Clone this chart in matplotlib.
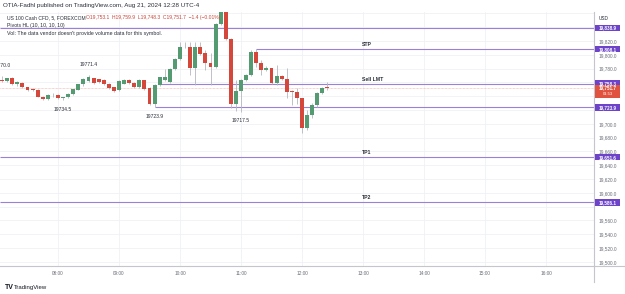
import matplotlib
matplotlib.use("Agg")
import matplotlib.pyplot as plt
from matplotlib.patches import Rectangle
from matplotlib.transforms import blended_transform_factory

# ---------------- data ----------------
times = ["07:05", "07:10", "07:15", "07:20", "07:25", "07:30", "07:35", "07:40", "07:45", "07:50",
         "07:55", "08:00", "08:05", "08:10", "08:15", "08:20", "08:25", "08:30", "08:35", "08:40",
         "08:45", "08:50", "08:55", "09:00", "09:05", "09:10", "09:15", "09:20", "09:25", "09:30",
         "09:35", "09:40", "09:45", "09:50", "09:55", "10:00", "10:05", "10:10", "10:15", "10:20",
         "10:25", "10:30", "10:35", "10:40", "10:45", "10:50", "10:55", "11:00", "11:05", "11:10",
         "11:15", "11:20", "11:25", "11:30", "11:35", "11:40", "11:45", "11:50", "11:55", "12:00",
         "12:05", "12:10", "12:15", "12:20", "12:25"]
opens = [19764.0, 19762.5, 19766.0, 19757.7, 19759.0, 19753.0, 19750.0, 19749.5, 19739.3, 19735.5,
         19741.5, 19742.0, 19737.5, 19738.4, 19742.8, 19749.5, 19757.0, 19762.0, 19766.0, 19764.5,
         19763.5, 19758.0, 19753.0, 19748.5, 19758.0, 19763.5, 19759.6, 19753.0, 19763.5, 19751.5,
         19728.7, 19756.0, 19764.0, 19760.0, 19779.0, 19793.5, 19812.0, 19811.7, 19780.4, 19811.7,
         19802.0, 19788.0, 19783.0, 19844.6, 19866.0, 19823.0, 19728.3, 19748.0, 19763.5, 19770.7,
         19804.5, 19787.7, 19778.0, 19780.4, 19758.7, 19769.3, 19764.5, 19748.0, 19746.5, 19737.0,
         19694.4, 19712.8, 19727.3, 19744.2, 19753.1]
highs = [19770.0, 19767.0, 19767.5, 19762.0, 19760.0, 19754.0, 19752.3, 19750.5, 19740.0, 19742.5,
         19744.2, 19743.0, 19739.3, 19744.5, 19751.0, 19758.0, 19766.0, 19771.4, 19767.0, 19765.5,
         19764.5, 19759.0, 19754.0, 19763.5, 19765.0, 19764.5, 19760.5, 19764.5, 19764.0, 19754.0,
         19757.0, 19768.5, 19780.0, 19780.5, 19795.0, 19818.0, 19819.0, 19819.0, 19818.0, 19818.0,
         19807.0, 19802.0, 19846.0, 19870.0, 19870.0, 19825.0, 19763.5, 19765.0, 19772.0, 19807.0,
         19808.1, 19792.5, 19783.8, 19781.0, 19785.2, 19771.0, 19781.3, 19749.0, 19751.5, 19738.0,
         19720.0, 19730.0, 19746.0, 19754.0, 19759.9]
lows = [19760.5, 19761.0, 19756.0, 19755.5, 19752.0, 19747.5, 19747.5, 19738.5, 19734.8, 19735.0,
        19738.9, 19736.5, 19734.5, 19737.0, 19742.0, 19748.5, 19755.5, 19761.0, 19757.5, 19759.0,
        19756.5, 19751.0, 19746.0, 19747.0, 19757.0, 19758.0, 19752.5, 19752.0, 19749.5, 19727.0,
        19723.9, 19755.0, 19762.0, 19758.5, 19777.5, 19792.0, 19809.5, 19770.7, 19756.2, 19800.0,
        19778.0, 19756.0, 19781.0, 19843.0, 19821.0, 19722.5, 19719.0, 19717.5, 19762.0, 19769.0,
        19782.8, 19770.7, 19776.0, 19757.0, 19756.0, 19763.0, 19737.0, 19727.0, 19729.0, 19686.3,
        19691.0, 19709.0, 19724.0, 19743.0, 19748.3]
closes = [19762.0, 19766.0, 19757.5, 19760.0, 19752.8, 19748.5, 19749.3, 19739.3, 19735.5, 19741.8,
          19742.0, 19737.4, 19738.0, 19743.6, 19750.0, 19757.2, 19765.0, 19767.5, 19758.5, 19760.0,
          19757.5, 19752.5, 19747.0, 19762.0, 19763.5, 19759.0, 19753.8, 19763.5, 19750.5, 19728.7,
          19755.8, 19767.4, 19768.0, 19779.0, 19793.5, 19811.7, 19811.3, 19780.4, 19811.7, 19801.2,
          19787.7, 19783.0, 19844.6, 19866.0, 19823.0, 19728.3, 19748.0, 19763.5, 19770.7, 19804.5,
          19787.7, 19778.0, 19780.4, 19758.7, 19769.3, 19764.5, 19746.5, 19746.1, 19737.0, 19694.4,
          19712.8, 19727.3, 19744.2, 19752.3, 19751.7]

pivot_high_times = ["07:05", "08:30"]
pivot_high_values = [19770.0, 19771.4]
pivot_low_times = ["08:05", "09:35", "11:00"]
pivot_low_values = [19734.5, 19723.9, 19717.5]

level_values = [19838.9, 19808.1, 19758.3, 19723.9, 19651.6, 19586.1]
level_starts = [None, "11:15", "09:40", "09:35", None, None]
level_names = ["", "STP", "Sell LMT", "", "TP1", "TP2"]

last_price = 19751.7
countdown = "01:53"

hour_labels = ["08:00", "09:00", "10:00", "11:00", "12:00", "13:00", "14:00", "15:00", "16:00"]
price_ticks = list(range(19500, 19861, 20))
hidden_price_labels = [19860, 19840, 19760, 19740, 19720, 19580]   # covered by axis boxes

# ---------------- helpers ----------------
def tmin(s):
    h, m = s.split(":")
    return (int(h) - 8) * 60 + int(m)

W, H = 625, 294
GREEN = "#559b71"
RED = "#d4473a"
WICK = "#b4b7be"
PURPLE_LINE = "#9a80d6"
PURPLE_BOX = "#6c43c9"
GRID = "#f0f1f5"
plt.rcParams["font.family"] = ["Liberation Sans", "DejaVu Sans"]

fig = plt.figure(figsize=(W / 100, H / 100), dpi=100)
fig.patch.set_facecolor("white")

pane_left, pane_right, pane_top, pane_bottom = 0, 594, 12, 266
ax = fig.add_axes([pane_left / W, 1 - pane_bottom / H,
                   (pane_right - pane_left) / W, (pane_bottom - pane_top) / H])
xmin, xmax = -57.05, 527.2
ymin, ymax = 19494.0, 19862.0
ax.set_xlim(xmin, xmax)
ax.set_ylim(ymin, ymax)

# grid / ticks
ax.set_xticks([tmin(h) for h in hour_labels])
ax.set_xticklabels(hour_labels)
ax.set_yticks(price_ticks)
ax.set_yticklabels(["" if p in hidden_price_labels else f"{p:,.1f}" for p in price_ticks])
ax.yaxis.tick_right()
ax.grid(True, color=GRID, lw=0.6, zorder=0)
ax.set_axisbelow(True)
ax.tick_params(axis="both", length=0, labelsize=3.4, labelcolor="#6a6d78")
ax.tick_params(axis="x", pad=3.4)
ax.tick_params(axis="y", pad=3.0)
for s in ["top", "left"]:
    ax.spines[s].set_visible(False)
for s in ["right", "bottom"]:
    ax.spines[s].set_color("#c4c6cc")
    ax.spines[s].set_linewidth(0.8)

# current price dotted line
ax.axhline(last_price, color="#f0a9a1", lw=0.5, ls=(0, (1, 1)), zorder=1)

# level lines
for v, st in zip(level_values, level_starts):
    x0 = xmin if st is None else tmin(st)
    ax.hlines(v, x0, xmax, color=PURPLE_LINE, lw=0.8, zorder=2)

# candles
bw = 3.9
for t, o, h, l, c in zip(times, opens, highs, lows, closes):
    x = tmin(t)
    col = GREEN if c >= o else RED
    ax.vlines(x, l, h, color=WICK, lw=0.6, zorder=3)
    lo, hi = min(o, c), max(o, c)
    ax.bar(x, max(hi - lo, 0.7), bottom=lo, width=bw, color=col, zorder=4, linewidth=0)

# pivot labels
for t, v in zip(pivot_high_times, pivot_high_values):
    ax.annotate(f"{v:.1f}", xy=(tmin(t), v), xytext=(0, 7.0), textcoords="offset points",
                ha="center", va="center", fontsize=3.6, color="#2a2e39", zorder=6,
                annotation_clip=False)
for t, v in zip(pivot_low_times, pivot_low_values):
    ax.annotate(f"{v:.1f}", xy=(tmin(t), v), xytext=(0, -6.6), textcoords="offset points",
                ha="center", va="center", fontsize=3.6, color="#2a2e39", zorder=6)

# level names
for v, name in zip(level_values, level_names):
    if name:
        ax.annotate(name, xy=(tmin("12:59"), v), xytext=(0, 3.2), textcoords="offset points",
                    ha="left", va="center", fontsize=3.7, fontweight="bold", color="#2a2e39",
                    zorder=6)

# price-axis boxes
tr = blended_transform_factory(ax.transAxes, ax.transData)
ppx = (ymax - ymin) / (pane_bottom - pane_top)   # price per pixel
bx0 = 1.0 + 1.0 / (pane_right - pane_left)
bwid = 25.0 / (pane_right - pane_left)
for v in level_values:
    ax.add_patch(Rectangle((bx0, v - 3.2 * ppx), bwid, 6.4 * ppx, transform=tr,
                           facecolor=PURPLE_BOX, edgecolor="none", clip_on=False, zorder=8))
    ax.text(bx0 + bwid / 2, v, f"{v:,.1f}", transform=tr, ha="center", va="center",
            fontsize=3.3, color="white", fontweight="bold", zorder=9, clip_on=False)
# current price box (two lines)
ax.add_patch(Rectangle((bx0, last_price - 9.7 * ppx), bwid, 13.0 * ppx, transform=tr,
                       facecolor="#e0533f", edgecolor="none", clip_on=False, zorder=8))
ax.text(bx0 + bwid / 2, last_price, f"{last_price:,.1f}", transform=tr, ha="center",
        va="center", fontsize=3.3, color="white", fontweight="bold", zorder=9, clip_on=False)
ax.text(bx0 + bwid / 2, last_price - 5.8 * ppx, countdown, transform=tr, ha="center",
        va="center", fontsize=3.0, color="white", zorder=9, clip_on=False)

# ---------------- figure texts ----------------
def ftext(px, py, s, **kw):
    fig.text(px / W, 1 - py / H, s, **kw)

ftext(3, 6, "OTIA-Fadhl published on TradingView.com, Aug 21, 2024 12:28 UTC-4",
      fontsize=4.5, color="#2a2e39", va="center", ha="left")
ftext(7, 17.5, "US 100 Cash CFD, 5, FOREXCOM", fontsize=3.6, color="#2a2e39",
      va="center", ha="left", zorder=10)
ftext(86, 17.5, "O19,753.1  H19,759.9  L19,748.3  C19,751.7  \u22121.4 (\u22120.01%)",
      fontsize=3.6, color="#c9473b", va="center", ha="left", zorder=10)
ftext(7, 25.5, "Pivots HL (10, 10, 10, 10)", fontsize=3.7, color="#2a2e39",
      va="center", ha="left", zorder=10)
ftext(7, 33.5, "Vol: The data vendor doesn't provide volume data for this symbol.",
      fontsize=3.8, color="#2a2e39", va="center", ha="left", zorder=10)
ftext(599, 18, "USD", fontsize=3.4, color="#2a2e39", va="center", ha="left")
ftext(5, 287.5, "TV", fontsize=5, fontweight="bold", color="#131722", va="center", ha="left")
ftext(14, 287.5, "TradingView", fontsize=4.3, color="#131722", va="center", ha="left")

fig.add_artist(plt.Line2D([594 / W, 594 / W], [1 - 266 / H, 1 - 282 / H], color="#c4c6cc",
                          lw=0.8, transform=fig.transFigure))
fig.add_artist(plt.Line2D([594 / W, 1.0], [1 - 266 / H, 1 - 266 / H], color="#c4c6cc",
                          lw=0.8, transform=fig.transFigure))

fig.savefig("out.png", dpi=100, facecolor="white")
